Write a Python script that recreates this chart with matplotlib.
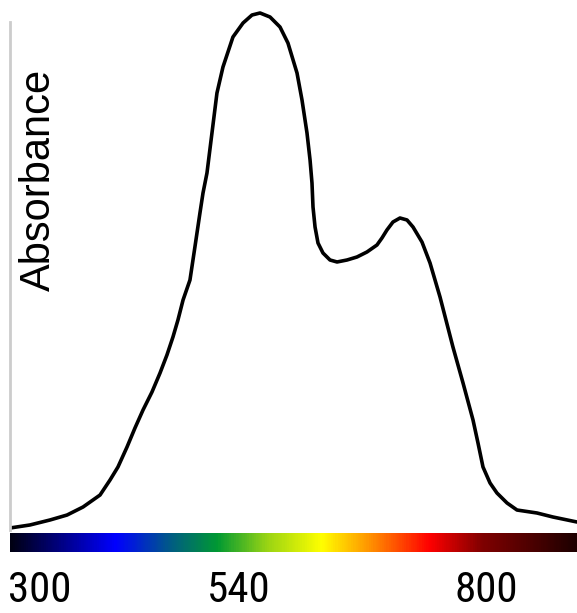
import numpy as np
import matplotlib
matplotlib.use('Agg')
import matplotlib.pyplot as plt
from matplotlib.colors import LinearSegmentedColormap

# curve (wavelength nm, absorbance normalised)
wl = [300.0, 317.6, 335.3, 350.3, 364.4, 379.4, 388.2, 395.2, 403.2, 410.2,
      417.3, 425.2, 432.3, 438.4, 443.7, 448.1, 452.6, 458.7, 463.0, 467.5, 470.2,
      473.7, 478.1, 482.5, 487.8, 496.6, 505.5, 513.4, 520.5, 529.3, 538.1,
      545.1, 553.1, 557.5, 561.9, 564.6, 566.3, 567.2, 569.0, 571.6, 576.0,
      582.2, 588.4, 597.2, 606.0, 614.8, 623.6, 628.0, 632.4, 637.7, 643.9,
      650.1, 655.4, 663.3, 670.4, 679.2, 690.6, 699.5, 708.3, 712.7, 717.1,
      723.3, 729.4, 738.3, 747.1, 764.7, 778.8, 800.0]
absb = [0.0096, 0.0154, 0.0250, 0.0345, 0.0499, 0.0729, 0.1017, 0.1267, 0.1651, 0.2015,
        0.2361, 0.2706, 0.3071, 0.3417, 0.3762, 0.4088, 0.4472, 0.4856, 0.5480, 0.6142, 0.6526,
        0.6910, 0.7678, 0.8445, 0.8944, 0.9520, 0.9789, 0.9942, 0.9981, 0.9904, 0.9712,
        0.9405, 0.8829, 0.8311, 0.7678, 0.7159, 0.6718, 0.6257, 0.5873, 0.5566, 0.5374,
        0.5240, 0.5202, 0.5240, 0.5298, 0.5394, 0.5528, 0.5662, 0.5816, 0.5969, 0.6046,
        0.6008, 0.5873, 0.5585, 0.5182, 0.4530, 0.3570, 0.2879, 0.2169, 0.1727, 0.1267,
        0.0960, 0.0768, 0.0576, 0.0441, 0.0384, 0.0307, 0.0211]

# spectrum bar colours
spec_pos = [0.0, 0.185, 0.287, 0.365, 0.453, 0.55, 0.63, 0.741, 0.834, 1.0]
spec_col = ['#000014', '#0000ff', '#00607f', '#009933', '#99d414', '#ffff00',
            '#ff9900', '#ff0000', '#800000', '#1e0000']

tick_at = [326, 502, 720]
tick_lab = ['300', '540', '800']

W, H = 577, 613
fig = plt.figure(figsize=(W / 100, H / 100), dpi=100)

ax = fig.add_axes([10 / W, (H - 533) / H, 567 / W, 533 / H])
ax.plot(wl, absb, color='black', lw=2.6, solid_joinstyle='round',
        solid_capstyle='round')
ax.set_xlim(300, 800)
ax.set_ylim(0, 533 / 521)
for s in ['top', 'right', 'bottom']:
    ax.spines[s].set_visible(False)
ax.spines['left'].set_color('#cccccc')
ax.spines['left'].set_linewidth(2)
ax.spines['left'].set_bounds(0.006, 0.981)
ax.set_xticks([])
ax.set_yticks([])
ax.patch.set_alpha(0)

fig.text(39 / W, 1 - 180 / H, 'Absorbance', rotation=90, ha='center', va='center',
         fontsize=30, family=['Liberation Sans', 'DejaVu Sans'])

# spectrum bar
cmap = LinearSegmentedColormap.from_list('spec', list(zip(spec_pos, spec_col)))
cax = fig.add_axes([10 / W, (H - 552) / H, 567 / W, 19 / H])
grad = np.linspace(0, 1, 600).reshape(1, -1)
cax.imshow(grad, aspect='auto', cmap=cmap, extent=[300, 800, 0, 1])
cax.set_xlim(300, 800)
cax.set_yticks([])
cax.set_xticks(tick_at)
cax.set_xticklabels(tick_lab, fontsize=31,
                    family=['Liberation Sans Narrow', 'Roboto Condensed', 'Liberation Sans'])
cax.tick_params(axis='x', length=0, pad=13)
for s in cax.spines.values():
    s.set_visible(False)

fig.savefig('out.png', dpi=100)
